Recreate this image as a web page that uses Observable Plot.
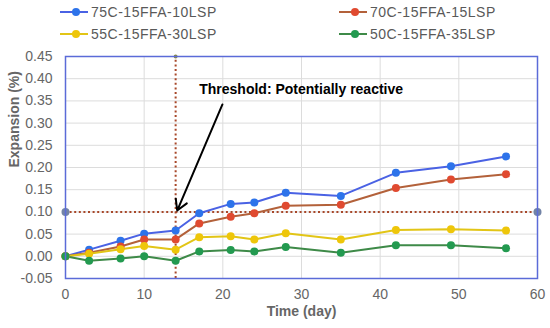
<!DOCTYPE html>
<html>
<head>
<meta charset="utf-8">
<script src="https://cdn.jsdelivr.net/npm/d3@7"></script>
<script src="https://cdn.jsdelivr.net/npm/@observablehq/plot@0.6"></script>
<style>
  html, body { margin: 0; padding: 0; background: #fff; }
  #wrap { width: 550px; height: 328px; font-family: "Liberation Sans", Arial, sans-serif; }
  #legend { position: relative; height: 45px; font-size: 14px; color: #595959; letter-spacing: 0.5px; }
  .item { position: absolute; display: flex; align-items: center; white-space: nowrap; }
  .item svg { margin-right: 3px; }
</style>
</head>
<body>
<div id="wrap">
  <div id="legend"></div>
  <div id="chart"></div>
</div>
<script>
// ---- data ----
const days = [0, 3, 7, 10, 14, 17, 21, 24, 28, 35, 42, 49, 56];
const seriesNames = ["75C-15FFA-10LSP", "70C-15FFA-15LSP", "55C-15FFA-30LSP", "50C-15FFA-35LSP"];
const s75 = [0, 0.015, 0.035, 0.051, 0.058, 0.097, 0.118, 0.121, 0.143, 0.136, 0.188, 0.203, 0.225];
const s70 = [0, 0.008, 0.022, 0.038, 0.038, 0.074, 0.089, 0.097, 0.114, 0.116, 0.154, 0.173, 0.185];
const s55 = [0, 0.006, 0.016, 0.023, 0.015, 0.043, 0.045, 0.038, 0.052, 0.038, 0.059, 0.061, 0.058];
const s50 = [0, -0.010, -0.005, 0.000, -0.010, 0.011, 0.014, 0.011, 0.021, 0.008, 0.025, 0.025, 0.018];
const seriesValues = [s75, s70, s55, s50];
const xTicks = [0, 10, 20, 30, 40, 50, 60];
const yTicks = [-0.05, 0, 0.05, 0.10, 0.15, 0.20, 0.25, 0.30, 0.35, 0.40, 0.45];
const thresholdValue = [0.10];
const thresholdDay = [14];
const thresholdEnds = [0, 60];
const annotationText = ["Threshold: Potentially reactive"];
const annotationPos = [{x: 17, y: 0.376}];
const arrowPos = [{x1: 19.95, y1: 0.342, x2: 14.2, y2: 0.103}];
const xLabel = "Time (day)";
const yLabel = "Expansion (%)";

// ---- styles ----
const lineColors = ["#4a62e4", "#b3613a", "#e2c516", "#3e8a48"];
const markerColors = ["#2d73ea", "#e04a30", "#eec60a", "#239a50"];
const font = "Liberation Sans, Arial, sans-serif";

// legend
const legend = document.getElementById("legend");
const legendPos = [[60, 4], [339, 4], [60, 26], [339, 26]];
seriesNames.forEach((n, i) => {
  const it = document.createElement("div");
  it.className = "item";
  it.style.left = legendPos[i][0] + "px";
  it.style.top = legendPos[i][1] + "px";
  it.innerHTML = `<svg width="28" height="16"><line x1="0" x2="28" y1="8" y2="8" stroke="${lineColors[i]}" stroke-width="2"/><circle cx="16" cy="8" r="4" fill="${markerColors[i]}"/></svg><span>${n}</span>`;
  legend.appendChild(it);
});

const rows = seriesNames.map((n, i) => days.map((d, j) => ({day: d, value: seriesValues[i][j], series: n})));

const marks = [
  Plot.gridY(yTicks, {stroke: "#dcdcdc", strokeOpacity: 1}),
  Plot.gridX(xTicks, {stroke: "#dcdcdc", strokeOpacity: 1}),
  Plot.axisY({ticks: yTicks, tickFormat: d => d.toFixed(2), tickSize: 0, tickPadding: 13, fontSize: 14, fill: "#666", label: null}),
  Plot.axisX({ticks: xTicks, tickFormat: d => String(d), tickSize: 0, tickPadding: 11, fontSize: 14, fill: "#666", label: null}),
  Plot.text([yLabel], {text: d => d, frameAnchor: "left", rotate: -90, dx: -51, fontSize: 14, fontWeight: "bold", fill: "#666"}),
  Plot.text([xLabel], {text: d => d, frameAnchor: "bottom", dy: 37, fontSize: 14, fontWeight: "bold", fill: "#666"}),
  Plot.ruleY(thresholdValue, {x1: 0, x2: 60, stroke: "#a8482a", strokeWidth: 2, strokeDasharray: "2,2.6"}),
  Plot.ruleX(thresholdDay, {y1: -0.05, y2: 0.45, stroke: "#a8482a", strokeWidth: 2, strokeDasharray: "2,2.6"}),
];
rows.forEach((r, i) => {
  marks.push(Plot.line(r, {x: "day", y: "value", stroke: lineColors[i], strokeWidth: 2}));
});
rows.forEach((r, i) => {
  marks.push(Plot.dot(r, {x: "day", y: "value", fill: markerColors[i], r: 4}));
});
marks.push(
  Plot.dot(thresholdEnds, {x: d => d, y: () => thresholdValue[0], fill: "#7283a6", r: 4}),
  Plot.dot(thresholdDay, {x: d => d, y: () => 0.45, fill: "#8a8a3a", r: 2}),
  Plot.frame({stroke: "#5b6bd8", strokeWidth: 1.5}),
  Plot.arrow(arrowPos, {x1: "x1", y1: "y1", x2: "x2", y2: "y2", stroke: "#000", strokeWidth: 2, headLength: 9}),
  Plot.text(annotationText, {x: () => annotationPos[0].x, y: () => annotationPos[0].y, text: d => d, textAnchor: "start", fontSize: 14, fontWeight: "bold", fill: "#000"})
);

const chart = Plot.plot({
  width: 550,
  height: 283,
  marginLeft: 65,
  marginRight: 13,
  marginTop: 11,
  marginBottom: 50,
  style: {fontFamily: font, background: "#fff", overflow: "visible"},
  x: {domain: [0, 60]},
  y: {domain: [-0.05, 0.45]},
  marks
});
document.getElementById("chart").appendChild(chart);
</script>
</body>
</html>
